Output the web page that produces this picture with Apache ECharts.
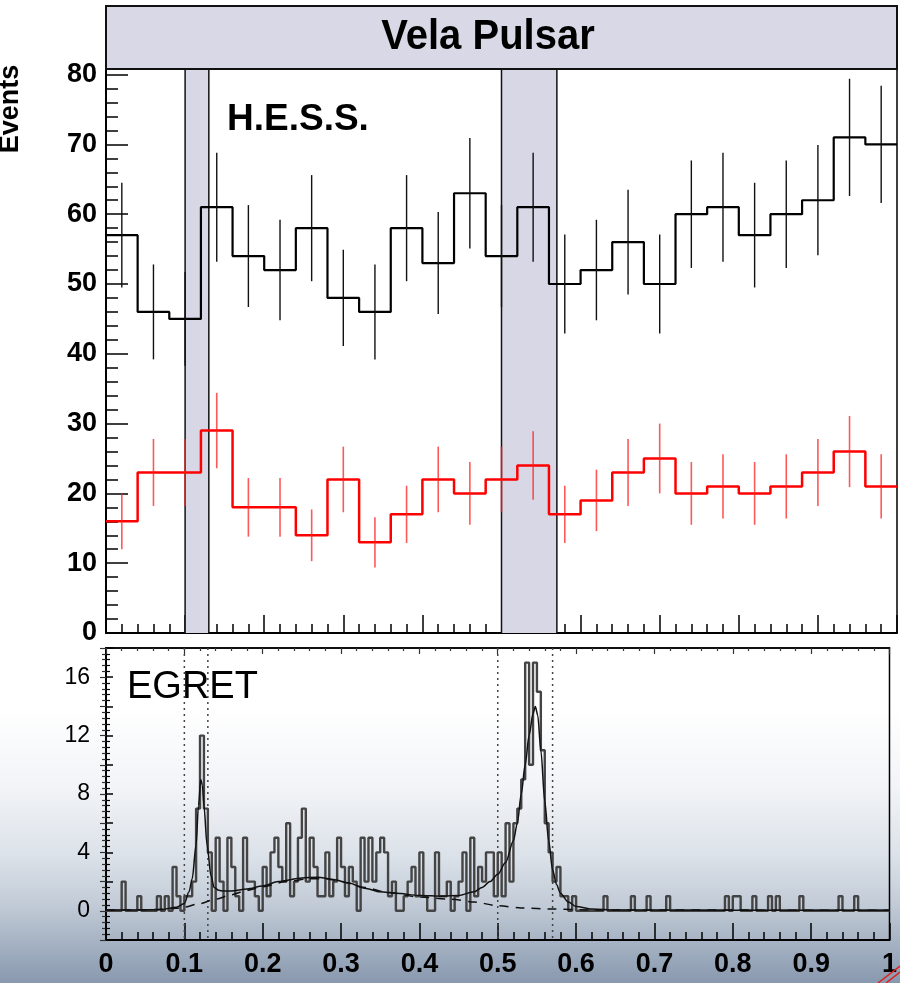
<!DOCTYPE html>
<html><head><meta charset="utf-8">
<script src="https://cdn.jsdelivr.net/npm/echarts@6/dist/echarts.min.js"></script>
<style>html,body{margin:0;padding:0;background:#fff}#c{width:900px;height:983px}</style>
</head><body><div id="c"></div><script>
// ---------------- data ----------------
const hessBinWidth = 0.04;
const hessAll = [57,46,45,61,54,52,58,48,46,58,53,63,54,61,50,52,56,50,60,61,57,60,62,71,70];
const hessAllErr = [7.5,6.8,6.7,7.8,7.3,7.2,7.6,6.9,6.8,7.6,7.3,7.9,7.3,7.8,7.1,7.2,7.5,7.1,7.7,7.8,7.5,7.7,7.9,8.4,8.4];
const hessCut = [16,23,23,29,18,18,14,22,13,17,22,20,22,24,17,19,23,25,20,21,20,21,23,26,21];
const hessCutErr = [4.0,4.8,4.8,5.4,4.2,4.2,3.7,4.7,3.6,4.1,4.7,4.5,4.7,4.9,4.1,4.4,4.8,5.0,4.5,4.6,4.5,4.6,4.8,5.1,4.6];
const onPulse = [[0.10,0.13],[0.50,0.57]];
const egretBinWidth = 0.005;
const egret = [
 0,0,0,0,2,0,0,0,1,0,  0,0,0,1,0,1,0,3,1,0,
 1,1,2,7,12,7,4,0,5,2, 0,5,3,1,0,5,2,2,1,0,
 3,1,4,5,3,2,6,1,2,5,  7,2,5,3,1,1,4,1,2,5,
 3,1,3,2,0,5,2,5,2,4,  5,4,1,2,0,0,1,2,3,1,
 4,1,0,0,4,1,1,2,0,1,  2,4,0,5,1,3,2,4,4,1,
 4,1,6,2,6,7,9,17,10,17, 15,11,6,4,2,3,1,1,0,1,
 0,0,0,0,0,0,0,1,0,0,  0,0,0,0,1,0,0,0,1,0,
 0,0,0,1,0,0,0,0,0,0,  0,0,0,0,0,0,0,0,1,0,
 1,1,0,0,0,1,0,0,0,1,  0,1,0,0,0,0,0,1,0,0,
 0,0,0,0,0,0,0,1,0,0,  0,1,0,0,0,0,0,0,0,0
];
const egretFit = [[0,0.05],[0.04,0.05],[0.07,0.08],[0.09,0.25],[0.1,0.5],[0.106,1.3],[0.11,2.2],[0.115,4.5],[0.118,7.2],[0.121,9.0],[0.123,8.6],[0.125,7.2],[0.129,4.5],[0.134,2.4],[0.138,1.6],[0.144,1.4],[0.15,1.35],[0.16,1.35],[0.18,1.5],[0.2,1.7],[0.22,2.0],[0.25,2.25],[0.27,2.3],[0.29,2.15],[0.31,1.9],[0.33,1.55],[0.35,1.3],[0.37,1.2],[0.4,1.05],[0.43,1.0],[0.45,1.05],[0.47,1.3],[0.48,1.6],[0.49,2.0],[0.5,2.5],[0.51,3.3],[0.52,4.8],[0.525,6.0],[0.53,8.0],[0.535,10.0],[0.54,12.0],[0.545,13.5],[0.548,14.0],[0.551,13.4],[0.555,11.0],[0.56,7.5],[0.565,4.8],[0.57,2.8],[0.575,1.8],[0.58,1.2],[0.59,0.6],[0.6,0.3],[0.62,0.12],[0.65,0.05],[1.0,0.03]];
const egretBkg = [[0,0.05],[0.06,0.08],[0.09,0.18],[0.1,0.25],[0.12,0.5],[0.14,0.8],[0.16,1.1],[0.18,1.4],[0.2,1.65],[0.23,2.0],[0.26,2.2],[0.28,2.2],[0.3,2.0],[0.33,1.6],[0.36,1.25],[0.4,0.95],[0.44,0.8],[0.47,0.6],[0.5,0.35],[0.53,0.2],[0.57,0.12],[0.62,0.06],[1.0,0.03]];
const titleText = 'Vela Pulsar';
const yTitle = 'Events';
const upperLabel = 'H.E.S.S.';
const lowerLabel = 'EGRET';

// ---------------- helpers ----------------
const FONT = 'Liberation Sans, Arial, Helvetica, sans-serif';
const hessYMax = 80.8;
function stepData(vals, w){ const d = vals.map((v,i)=>[i*w, v]); d.push([vals.length*w, vals[vals.length-1]]); return d; }
function errData(vals, errs, w){ return vals.map((v,i)=>[(i+0.5)*w, v, errs[i]]); }
function errRender(color, width, opacity){
  return function(p, api){
    const x=api.value(0), y=api.value(1), e=api.value(2);
    const a=api.coord([x,y-e]), b=api.coord([x,y+e]);
    return {type:'line', shape:{x1:a[0],y1:a[1],x2:b[0],y2:b[1]}, style:{stroke:color, lineWidth:width, opacity:opacity}};
  };
}
const blk = '#000';
const tickStyle = {color:blk, width:1.5};

const chart = echarts.init(document.getElementById('c'), null, {renderer:'canvas'});
const option = {
  animation:false,
  backgroundColor:{type:'linear',x:0,y:0,x2:0,y2:1,colorStops:[
    {offset:0,color:'#ffffff'},{offset:0.72,color:'#ffffff'},{offset:0.80,color:'#f2f4f7'},
    {offset:0.87,color:'#dce2e9'},{offset:0.92,color:'#c2cbd7'},{offset:0.96,color:'#a5b2c3'},{offset:1,color:'#8898ae'}]},
  grid:[
    {left:106, top:69, width:791, height:564, show:true, borderColor:blk, borderWidth:1.5, backgroundColor:'#ffffff'},
    {left:106, top:648, width:791, height:292, show:true, borderColor:blk, borderWidth:1.5, backgroundColor:'transparent'}
  ],
  xAxis:[
    {gridIndex:0, type:'value', min:0, max:1, interval:0.1,
     axisLine:{onZero:false, lineStyle:{color:blk,width:2}},
     axisTick:{inside:true, length:18, lineStyle:tickStyle},
     minorTick:{show:true, splitNumber:5, length:9, lineStyle:tickStyle},
     axisLabel:{show:false}, splitLine:{show:false}},
    {gridIndex:1, type:'value', min:0, max:1, interval:0.1, position:'bottom',
     axisLine:{onZero:false, lineStyle:{color:blk,width:2}},
     axisTick:{inside:true, length:17, lineStyle:tickStyle},
     minorTick:{show:true, splitNumber:5, length:8, lineStyle:tickStyle},
     axisLabel:{show:true, margin:11, color:blk, fontSize:27, fontWeight:'bold', fontFamily:FONT,
       formatter:v=> (Math.abs(v)<1e-9?'0':(Math.abs(v-1)<1e-9?'1':(+v).toFixed(1)))},
     splitLine:{show:false}},
    {gridIndex:1, type:'value', min:0, max:1, interval:0.1, position:'top',
     axisLine:{onZero:false, lineStyle:{color:blk,width:1.5}},
     axisTick:{inside:true, length:6, lineStyle:{color:'#333',width:1.2}},
     minorTick:{show:true, splitNumber:5, length:3, lineStyle:{color:'#333',width:1.2}},
     axisLabel:{show:false}, splitLine:{show:false}}
  ],
  yAxis:[
    {gridIndex:0, type:'value', min:0, max:hessYMax, interval:10, position:'left',
     axisLine:{show:true, lineStyle:{color:blk,width:2}},
     axisTick:{inside:true, length:22, lineStyle:tickStyle},
     axisLabel:{margin:9, color:blk, fontSize:27, fontWeight:'bold', fontFamily:FONT,
       formatter:v=> (Math.abs(v%10)<1e-9 ? String(Math.round(v)) : '')},
     splitLine:{show:false}},
    {gridIndex:0, type:'value', min:0, max:hessYMax, interval:2, position:'left',
     axisLine:{show:false}, axisTick:{inside:true, length:12, lineStyle:tickStyle},
     axisLabel:{show:false}, splitLine:{show:false}},
    {gridIndex:1, type:'value', min:-2, max:18, interval:2, position:'left',
     axisLine:{show:true, lineStyle:{color:blk,width:2}},
     axisTick:{inside:true, length:7, lineStyle:tickStyle},
     minorTick:{show:true, splitNumber:5, length:4, lineStyle:{color:blk,width:1.2}},
     axisLabel:{margin:16, color:blk, fontSize:23, fontFamily:FONT,
       formatter:v=> (v>=0 && Math.abs(v%4)<1e-9 ? String(Math.round(v)) : '')},
     splitLine:{show:false}},
    {gridIndex:1, type:'value', min:-2, max:18, interval:2, position:'right',
     axisLine:{show:true, lineStyle:{color:blk,width:1.5}},
     axisTick:{inside:true, length:6, lineStyle:{color:'#333',width:1.2}},
     minorTick:{show:true, splitNumber:5, length:4, lineStyle:{color:'#333',width:1.2}},
     axisLabel:{show:false}, splitLine:{show:false}}
  ],
  series:[
    {type:'custom', name:'bands', xAxisIndex:0, yAxisIndex:0, z:1,
     data:onPulse.map(b=>[b[0],b[1],0]), encode:{x:[0,1], y:2},
     renderItem:function(p, api){
       const a=api.coord([api.value(0), hessYMax]), b=api.coord([api.value(1), 0]);
       return {type:'group', children:[
         {type:'rect', shape:{x:a[0], y:a[1], width:b[0]-a[0], height:b[1]-a[1]}, style:{fill:'#d7d7e6'}},
         {type:'line', shape:{x1:a[0],y1:a[1],x2:a[0],y2:b[1]}, style:{stroke:'#111',lineWidth:1.5}},
         {type:'line', shape:{x1:b[0],y1:a[1],x2:b[0],y2:b[1]}, style:{stroke:'#111',lineWidth:1.5}}
       ]};
     }},
    {type:'line', name:'H.E.S.S. all', xAxisIndex:0, yAxisIndex:0, z:3, step:'end', showSymbol:false, symbol:'none',
     data:stepData(hessAll, hessBinWidth), lineStyle:{color:'#000', width:2.2}},
    {type:'custom', name:'all err', xAxisIndex:0, yAxisIndex:0, z:4, encode:{x:0,y:1},
     data:errData(hessAll, hessAllErr, hessBinWidth), renderItem:errRender('#111',1.4,1)},
    {type:'line', name:'H.E.S.S. cut', xAxisIndex:0, yAxisIndex:0, z:3, step:'end', showSymbol:false, symbol:'none',
     data:stepData(hessCut, hessBinWidth), lineStyle:{color:'#ff0000', width:2.5}},
    {type:'custom', name:'cut err', xAxisIndex:0, yAxisIndex:0, z:4, encode:{x:0,y:1},
     data:errData(hessCut, hessCutErr, hessBinWidth), renderItem:errRender('#ff2020',1.6,0.75)},
    {type:'custom', name:'dotted', xAxisIndex:1, yAxisIndex:2, z:2,
     data:onPulse.map(b=>[b[0],b[1],0]), encode:{x:[0,1], y:2},
     renderItem:function(p, api){
       const a=api.coord([api.value(0), 18]), b=api.coord([api.value(1), -2]);
       const st={stroke:'#444', lineWidth:1.5, lineDash:[2,4]};
       return {type:'group', children:[
         {type:'line', shape:{x1:a[0],y1:a[1],x2:a[0],y2:b[1]}, style:st},
         {type:'line', shape:{x1:b[0],y1:a[1],x2:b[0],y2:b[1]}, style:st}
       ]};
     }},
    {type:'line', name:'EGRET', xAxisIndex:1, yAxisIndex:2, z:3, step:'end', showSymbol:false, symbol:'none',
     data:stepData(egret, egretBinWidth), lineStyle:{color:'#444444', width:2.4}},
    {type:'line', name:'fit', xAxisIndex:1, yAxisIndex:2, z:5, showSymbol:false, symbol:'none', smooth:0.3, smoothMonotone:'x',
     data:egretFit, lineStyle:{color:'#111', width:1.5}},
    {type:'line', name:'bkg', xAxisIndex:1, yAxisIndex:2, z:5, showSymbol:false, symbol:'none', smooth:0.3, smoothMonotone:'x',
     data:egretBkg, lineStyle:{color:'#111', width:1.5, type:[9,7]}}
  ],
  graphic:[
    {type:'rect', z:10, shape:{x:106, y:6, width:791, height:63}, style:{fill:'#d8d8e6', stroke:'#111', lineWidth:2}},
    {type:'text', z:11, x:488, y:37, scaleX:0.93,
     style:{text:titleText, font:'bold 43px '+FONT, fill:'#000', textAlign:'center', textVerticalAlign:'middle'}},
    {type:'text', z:11, x:227, y:120,
     style:{text:upperLabel, font:'bold 37px '+FONT, fill:'#000', textAlign:'left', textVerticalAlign:'middle'}},
    {type:'text', z:11, x:127, y:688,
     style:{text:lowerLabel, font:'38px '+FONT, fill:'#000', textAlign:'left', textVerticalAlign:'middle'}},
    {type:'text', z:11, x:11, y:109, rotation:Math.PI/2,
     style:{text:yTitle, font:'bold 27px '+FONT, fill:'#000', textAlign:'center', textVerticalAlign:'middle'}},
    {type:'polyline', z:11, shape:{points:[[878,983],[900,966]]}, style:{stroke:'#e02020', lineWidth:1.5}},
    {type:'polyline', z:11, shape:{points:[[886,983],[900,972]]}, style:{stroke:'#e02020', lineWidth:1.5}}
  ]
};
chart.setOption(option);
</script></body></html>
